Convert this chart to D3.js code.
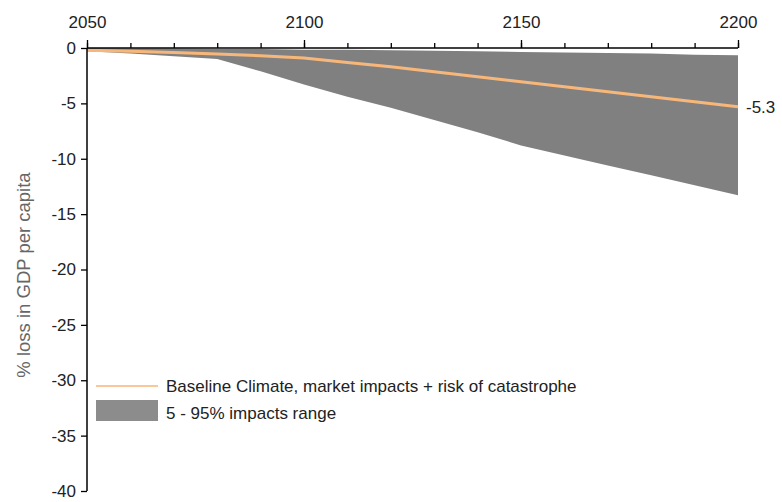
<!DOCTYPE html>
<html>
<head>
<meta charset="utf-8">
<script src="https://cdn.jsdelivr.net/npm/d3@7"></script>
<style>
  body { margin: 0; background: #fff; }
  svg { display: block; font-family: "Liberation Sans", Arial, sans-serif; }
</style>
</head>
<body>
<svg id="chart" width="782" height="502"></svg>
<script>
// data
var years = [2050, 2060, 2070, 2080, 2090, 2100, 2110, 2120, 2130, 2140, 2150, 2160, 2170, 2180, 2190, 2200];
var baseline = [-0.2, -0.3, -0.4, -0.55, -0.7, -0.9, -1.3, -1.7, -2.15, -2.6, -3.05, -3.5, -3.95, -4.4, -4.85, -5.3];
var upper95 = [0, -0.05, -0.05, -0.1, -0.1, -0.15, -0.15, -0.2, -0.25, -0.3, -0.35, -0.4, -0.45, -0.5, -0.6, -0.65];
var lower5 = [-0.3, -0.5, -0.75, -1.0, -2.1, -3.3, -4.4, -5.4, -6.5, -7.6, -8.8, -9.7, -10.6, -11.5, -12.4, -13.3];
var xMajor = [2050, 2100, 2150, 2200];
var yTicks = [0, -5, -10, -15, -20, -25, -30, -35, -40];
var legendLabels = ["Baseline Climate, market impacts + risk of catastrophe", "5 - 95% impacts range"];

var mainSvg = d3.select("#chart");
var plotLeft = 87, plotRight = 738, plotTop = 48, plotBottom = 491;

var x = d3.scaleLinear().domain([2050, 2200]).range([plotLeft, plotRight]);
var y = d3.scaleLinear().domain([0, -40]).range([plotTop, plotBottom]);

var rows = years.map(function(yr, i) {
    return {year: yr, base: baseline[i], hi: upper95[i], lo: lower5[i]};
});

// band
mainSvg.append("path")
    .datum(rows)
    .attr("fill", "#808080")
    .attr("d", d3.area()
        .x(function(d) { return x(d.year); })
        .y0(function(d) { return y(d.lo); })
        .y1(function(d) { return y(d.hi); }));

// baseline line
mainSvg.append("path")
    .datum(rows)
    .attr("fill", "none")
    .attr("stroke", "#f8b77a")
    .attr("stroke-width", 3)
    .attr("d", d3.line()
        .x(function(d) { return x(d.year); })
        .y(function(d) { return y(d.base); }));

// top x axis, minor ticks every 10 years
var xAxis = mainSvg.append("g")
    .attr("transform", "translate(0," + plotTop + ")")
    .call(d3.axisTop(x).tickValues(years).tickSize(5).tickFormat(""));
xAxis.select(".domain").attr("stroke", "#000").attr("stroke-width", 1.5).attr("d", "M" + plotLeft + ",0H" + plotRight);
xAxis.selectAll(".tick line").attr("stroke", "#000").attr("stroke-width", 1.3);

var xMaj = mainSvg.append("g")
    .attr("transform", "translate(0," + plotTop + ")")
    .call(d3.axisTop(x).tickValues(xMajor).tickSize(8).tickPadding(12).tickFormat(d3.format("d")));
xMaj.select(".domain").remove();
xMaj.selectAll(".tick line").attr("stroke", "#000").attr("stroke-width", 1.3);
xMaj.selectAll(".tick text")
    .attr("font-size", 17)
    .attr("fill", "#222")
    .attr("font-family", "Liberation Sans, Arial, sans-serif");

// left y axis
var yAxis = mainSvg.append("g")
    .attr("transform", "translate(" + plotLeft + ",0)")
    .call(d3.axisLeft(y).tickValues(yTicks).tickSize(6).tickPadding(5));
yAxis.select(".domain").attr("stroke", "#000").attr("stroke-width", 1.5).attr("d", "M0," + plotTop + "V" + plotBottom);
yAxis.selectAll(".tick line").attr("stroke", "#000").attr("stroke-width", 1.3);
yAxis.selectAll(".tick text")
    .attr("font-size", 17)
    .attr("fill", "#222")
    .attr("font-family", "Liberation Sans, Arial, sans-serif")
    .text(function(d) { return d === 0 ? "0" : "-" + Math.abs(d); });

// y title
mainSvg.append("text")
    .attr("transform", "translate(30,275) rotate(-90)")
    .attr("text-anchor", "middle")
    .attr("font-size", 18.5)
    .attr("fill", "#666")
    .text("% loss in GDP per capita");

// end value label
var last = rows[rows.length - 1];
mainSvg.append("text")
    .attr("x", x(last.year) + 8)
    .attr("y", y(last.base))
    .attr("dy", "0.35em")
    .attr("font-size", 17)
    .attr("fill", "#222")
    .text("-" + Math.abs(last.base).toFixed(1));

// legend
var lg = mainSvg.append("g");
lg.append("line")
    .attr("x1", 96).attr("x2", 158)
    .attr("y1", 386).attr("y2", 386)
    .attr("stroke", "#fbc79a")
    .attr("stroke-width", 2);
lg.append("rect")
    .attr("x", 96).attr("y", 400)
    .attr("width", 62).attr("height", 21)
    .attr("fill", "#8c8c8c");
lg.selectAll("text.lab")
    .data(legendLabels)
    .enter().append("text")
    .attr("class", "lab")
    .attr("x", 166)
    .attr("y", function(d, i) { return 386 + i * 27; })
    .attr("dy", "0.35em")
    .attr("font-size", 17)
    .attr("fill", "#222")
    .text(function(d) { return d; });
</script>
</body>
</html>
